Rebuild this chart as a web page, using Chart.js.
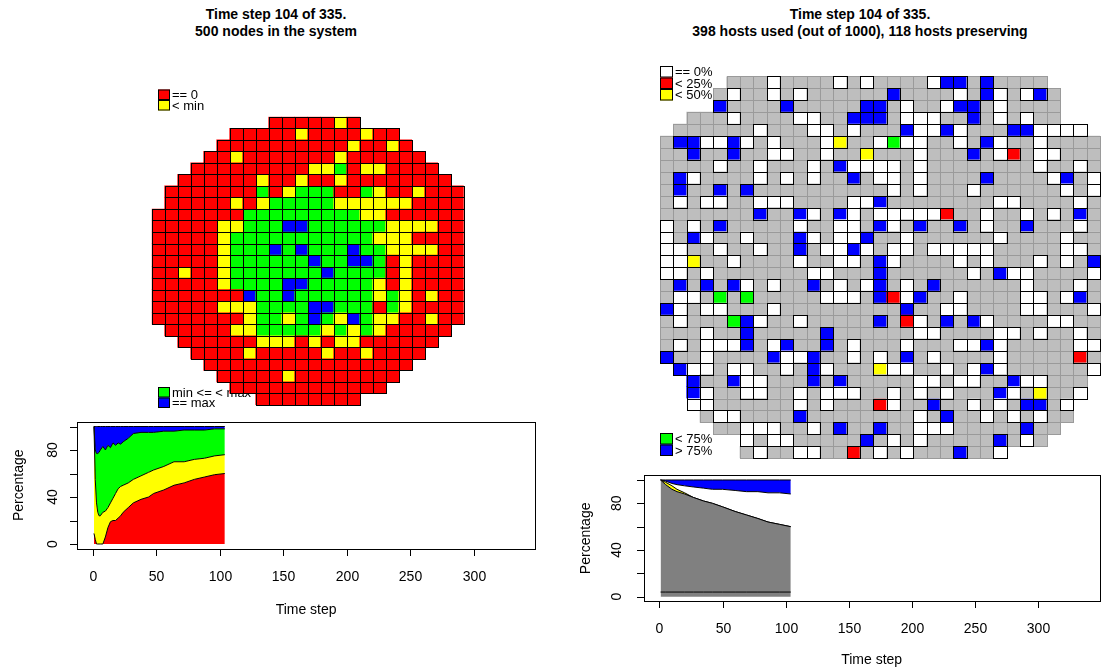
<!DOCTYPE html>
<html>
<head>
<meta charset="utf-8">
<script src="https://cdn.jsdelivr.net/npm/chart.js@4/dist/chart.umd.min.js"></script>
<style>
body{margin:0;background:#fff;width:1104px;height:672px;overflow:hidden;position:relative;font-family:"Liberation Sans",Arial,sans-serif}
canvas{position:absolute}
.title{position:absolute;font-weight:bold;font-size:14px;line-height:17px;text-align:center;white-space:nowrap;transform:translateX(-50%)}
</style>
</head>
<body>
<div class="title" style="left:276px;top:6px">Time step 104 of 335.<br>500 nodes in the system</div>
<div class="title" style="left:860px;top:6px">Time step 104 of 335.<br>398 hosts used (out of 1000), 118 hosts preserving</div>
<canvas id="leftGrid" width="340" height="340" style="left:140px;top:80px"></canvas>
<canvas id="rightGrid" width="454" height="410" style="left:650px;top:60px"></canvas>
<canvas id="leftArea" width="552" height="220" style="left:0px;top:410px"></canvas>
<canvas id="rightArea" width="544" height="207" style="left:560px;top:465px"></canvas>
<script>
// node grid, one string per row: R == 0, Y < min, G min <= < max, B == max
const nodeRows = [
  ".........RRRRRYR........",
  "......RRRRRYRRRRYRR.....",
  ".....RRRRRRRRRRYRRYR....",
  "....RRYRRRRRRRYRRRRRR...",
  "...RRRRRRRRRYYGRYYRRRR..",
  "..RRRRRRYRRYRRYRRRRRRRR.",
  ".RRRRRRRGRYGGGRRGYRRYRRR",
  ".RRRRRYRYGGGGGYYYYYYRRRR",
  "RRRRRRRGGGGGGGGGYYRRRRRR",
  "RRRRRYYGGGBBGGGGGGYYYYRR",
  "RRRRRYGGGGGGGGGGGYYYRRRR",
  "RRRRRYGGGBGBGGGBGGYYYYRR",
  "RRRRRYGGGGGGBGGBBGRYRRRR",
  "RRYRRYGGGGGGGBGGGGRYRRRR",
  "RRRRRYGGGGBBGGGGGYRYRRRR",
  "RRRRRRRBGGBGGGGGGYGYRYRR",
  "RRRRRYYYGGGGBBGGGRGYRRRR",
  "RRRRRRRYGGYGBGYBGYYRRYRR",
  ".RRRRRYYGGGGGYGYGYRRRRR.",
  "..RRRRRRYYYRYRYYRRRRRR..",
  "...RRRRYRRRRRYRRYRRRR...",
  "....RRRRRRRRRRRRRRRR....",
  ".....RRRRRYRRRRRRRR.....",
  "......RRRRRRRRRRRR......",
  "........RRRRRRRR........"
];

// host grid: g unused, w == 0%, R < 25%, Y < 50%, G < 75%, B > 75%
const hostRows = [
  ".....gggwggggwgwggggwBBgBgggg....",
  "....gwggwgwggggggBggggwgBwgwBg...",
  "....BggggBgggggBBgwggwBBgwgggg...",
  "..gggwggggwwggBBBgwwwggBgwgwgg...",
  ".ggggggwgggwwgwgggBwwBwgggBBwwww.",
  "gBBwwBwgwgggwYggwGwwggwgBwggwgggg",
  "ggBggBggwwggwggYgggwgggBgwRgwwggg",
  "ggggwggwgggwgBwwwwgwggggggggwggwg",
  "gBwggggwgwgwggBgwwgwggggBggggwBgw",
  "gBggBgBggggggggggwgwgggwggggggwgw",
  "gwgwwggwwwggggwwBggggggggwwggggwg",
  "gggggggBggBwgBwgwwwwwRggwggwgwgBg",
  "wgwgBgggggwggwwgBwgBggBgwggBgggwg",
  "wgBwggwgggBwgwwBggwggggggwggggwgg",
  "wwggwggwggBgwwBwgwwgwwwwwgggggwwg",
  "wwYggwggggwggwwgBwggggwgwgggwgwgB",
  "wwgwgggggggwwgggBggggggwgBwwggggw",
  "gBgBgBwgwggBgwgwBgwgBggggggwgggwg",
  "gwwgGgGgggggwwwgBRwBggwggggwwgwBg",
  "BwgwwgggwgggggggggBggwwggggwwgggw",
  "gwgggGBwggwgggggBgRwgBgBwggggwwgg",
  "gggwggBgggggBggggggwwggggwwgwggwg",
  "gwgwwwBgwBggBgwgggwgggwwBwgggggww",
  "BggwggggBwwBggwgwgBgwggggwgggggRg",
  ".BwwgwwggwgBwgggYwwggwgwBwggggggw",
  "..BggBwwgggBgBgggggwwgwwggBwwggg.",
  "..BwggwwggwgwwwggwgwgwgggBwgYggw.",
  "..wwggggggwgwgggRwggBggwgwgBBgw..",
  "...gwwggggBggggggggwgBggwgwgwgg..",
  "....ggwwwggwgBggBggwwwgggggBgg...",
  "......wgwwgggggBgwgwgggggBgwg....",
  "......gwggwwggRgwgwgggBggw......."
];

// left history chart (percent of nodes per state)
const nodeSteps  = [1, 2, 3, 4, 5, 6, 8, 10, 12, 14, 16, 18, 20, 22, 24, 28, 32, 38, 44, 48, 56, 64, 72, 80, 88, 96, 104];
const nodeZero   = [9, 4, 0, 0, 0, 0, 0, 6, 14, 19, 20, 20, 22, 24, 27, 31, 35, 38, 40, 43, 46, 50, 52, 55, 57, 59, 60];
const nodeLow    = [91, 51, 35, 27, 24, 24, 27, 22, 17, 16, 19, 23, 25, 25, 23, 21, 20, 20, 21, 20, 20, 20, 18, 17, 16, 16, 16];
const nodeMid    = [0, 25, 42, 50, 54, 56, 56, 52, 53, 47, 47, 41, 39, 36, 37, 38, 39, 37, 34, 32, 30, 26, 27, 25, 24, 23, 22];
const nodeMax    = [0, 20, 23, 23, 22, 20, 17, 20, 16, 18, 14, 16, 14, 15, 13, 10, 6, 5, 5, 5, 4, 4, 3, 3, 3, 2, 2];

// right history chart (percent of hosts per state)
const hostSteps  = [1, 5, 10, 14, 20, 27, 35, 42, 50, 60, 69, 78, 86, 95, 104];
const hostBase   = [4, 4, 4, 4, 4, 4, 4, 4, 4, 4, 4, 4, 4, 4, 4];
const hostIdle   = [96, 92, 88, 86, 84, 81, 78, 76, 73, 69, 66, 63, 60, 58, 56];
const hostHalf   = [0, 2, 3, 2, 1, 0, 0, 0, 0, 0, 0, 0, 0, 0, 0];
const hostEmpty  = [0, 1, 2, 4, 6, 9, 11, 12, 15, 18, 20, 23, 25, 27, 28];
const hostFull   = [0, 1, 3, 4, 5, 6, 7, 8, 8, 9, 10, 10, 11, 11, 12];

const xTicks = [0, 50, 100, 150, 200, 250, 300];
const yTicks = [0, 20, 40, 60, 80, 100];
const yLabels = [0, 40, 80];

const FONT = '"Liberation Sans", Arial, sans-serif';

// turns the row strings into one floating-bar dataset per colour
function gridDatasets(rows, palette){
    let cells = {};
    rows.forEach((row, r) => {
        for(let c = 0; c < row.length; c++){
            let ch = row[c];
            if(!palette[ch]) continue;
            if(!cells[ch]) cells[ch] = [];
            cells[ch].push({x: String(c), y: [r, r + 1]});
        }
    });
    return Object.keys(palette).filter(k => cells[k]).map(k => ({
        data: cells[k],
        backgroundColor: palette[k].fill,
        edgeColor: palette[k].edge,
        borderWidth: 0,
        barPercentage: 1,
        categoryPercentage: 1,
        grouped: false
    }));
}

// thin cell outlines drawn on top of the bars
const cellEdges = {
    id: 'cellEdges',
    afterDatasetsDraw(chart){
        let ctx = chart.ctx;
        ctx.save();
        ctx.lineWidth = 1;
        chart.data.datasets.forEach((ds, i) => {
            ctx.strokeStyle = ds.edgeColor;
            chart.getDatasetMeta(i).data.forEach(bar => {
                let p = bar.getProps(['x', 'y', 'base', 'width'], true);
                let x0 = Math.round(p.x - p.width / 2), x1 = Math.round(p.x + p.width / 2);
                let y0 = Math.round(Math.min(p.y, p.base)), y1 = Math.round(Math.max(p.y, p.base));
                ctx.strokeRect(x0 + 0.5, y0 + 0.5, x1 - x0, y1 - y0);
            });
        });
        ctx.restore();
    }
};

// legend boxes, drawn under the cells like the original
const boxLegend = {
    id: 'boxLegend',
    beforeDatasetsDraw(chart, args, opts){
        let ctx = chart.ctx;
        ctx.save();
        ctx.font = opts.font;
        ctx.textBaseline = 'middle';
        opts.items.forEach(it => {
            let x = it[0] - opts.left, y = it[1] - opts.top;
            ctx.fillStyle = it[2];
            ctx.fillRect(x, y, opts.w, opts.h);
            ctx.strokeStyle = '#000';
            ctx.lineWidth = 1;
            ctx.strokeRect(x + 0.5, y + 0.5, opts.w - 1, opts.h - 1);
            ctx.fillStyle = '#000';
            ctx.fillText(it[3], x + opts.w + 2, y + opts.h / 2 + 1);
        });
        ctx.restore();
    }
};

function gridChart(id, rows, palette, pad, legend){
    let n = rows[0].length;
    let labels = [];
    for(let c = 0; c < n; c++) labels.push(String(c));
    return new Chart(document.getElementById(id), {
        type: 'bar',
        data: {labels: labels, datasets: gridDatasets(rows, palette)},
        options: {
            responsive: false,
            animation: false,
            devicePixelRatio: 1,
            layout: {padding: pad},
            scales: {
                x: {display: false},
                y: {display: false, min: 0, max: rows.length, reverse: true}
            },
            plugins: {legend: {display: false}, tooltip: {enabled: false}, boxLegend: legend}
        },
        plugins: [boxLegend, cellEdges]
    });
}

gridChart('leftGrid', nodeRows, {
    R: {fill: '#ff0000', edge: '#000'},
    Y: {fill: '#ffff00', edge: '#000'},
    G: {fill: '#00ff00', edge: '#000'},
    B: {fill: '#0000ff', edge: '#000'}
}, {left: 11.7, top: 36.7, right: 16.3, bottom: 15}, {
    left: 140, top: 80, w: 12, h: 10.5, font: '13px ' + FONT,
    items: [
        [158, 89.5, '#ff0000', '== 0'],
        [158, 100, '#ffff00', '< min'],
        [158, 387, '#00ff00', 'min <= < max'],
        [158, 397.5, '#0000ff', '== max']
    ]
});

gridChart('rightGrid', hostRows, {
    g: {fill: '#bebebe', edge: '#9a9a9a'},
    w: {fill: '#ffffff', edge: '#000'},
    R: {fill: '#ff0000', edge: '#000'},
    Y: {fill: '#ffff00', edge: '#000'},
    G: {fill: '#00ff00', edge: '#000'},
    B: {fill: '#0000ff', edge: '#000'}
}, {left: 10, top: 16.4, right: 4, bottom: 11.8}, {
    left: 650, top: 60, w: 13, h: 11.5, font: '13px ' + FONT,
    items: [
        [660, 66, '#ffffff', '== 0%'],
        [660, 77.5, '#ff0000', '< 25%'],
        [660, 89, '#ffff00', '< 50%'],
        [660, 433, '#00ff00', '< 75%'],
        [660, 444.5, '#0000ff', '> 75%']
    ]
});

// R style box, ticks and labels for the history plots
const rAxes = {
    id: 'rAxes',
    afterDraw(chart, args, o){
        let ctx = chart.ctx, a = chart.chartArea;
        let x = chart.scales.x, y = chart.scales.y;
        ctx.save();
        ctx.strokeStyle = '#000';
        ctx.fillStyle = '#000';
        ctx.lineWidth = 1;
        let l = Math.round(a.left), t = Math.round(a.top), r = Math.round(a.right), b = Math.round(a.bottom);
        ctx.strokeRect(l + 0.5, t + 0.5, r - l, b - t);
        ctx.font = '14px ' + FONT;
        ctx.textAlign = 'center';
        ctx.textBaseline = 'middle';
        xTicks.forEach(v => {
            let px = Math.round(x.getPixelForValue(v)) + 0.5;
            ctx.beginPath();
            ctx.moveTo(px, b);
            ctx.lineTo(px, b + o.tick);
            ctx.stroke();
            ctx.fillText(String(v), px, b + o.xLab);
        });
        yTicks.forEach(v => {
            let py = Math.round(y.getPixelForValue(v)) + 0.5;
            ctx.beginPath();
            ctx.moveTo(l - o.tick, py);
            ctx.lineTo(l, py);
            ctx.stroke();
        });
        yLabels.forEach(v => {
            ctx.save();
            ctx.translate(l - o.yLab, y.getPixelForValue(v));
            ctx.rotate(-Math.PI / 2);
            ctx.fillText(String(v), 0, 0);
            ctx.restore();
        });
        ctx.fillText('Time step', (a.left + a.right) / 2, b + o.xTitle);
        ctx.translate(l - o.yTitle, (a.top + a.bottom) / 2);
        ctx.rotate(-Math.PI / 2);
        ctx.fillText('Percentage', 0, 0);
        ctx.restore();
    }
};

function areaSet(steps, values, colour, first){
    return {
        data: steps.map((s, i) => ({x: s, y: values[i]})),
        backgroundColor: colour,
        borderColor: '#000',
        borderWidth: 1,
        pointRadius: 0,
        tension: 0,
        fill: first ? 'origin' : '-1'
    };
}

function areaChart(id, datasets, pad, axes){
    return new Chart(document.getElementById(id), {
        type: 'line',
        data: {datasets: datasets},
        options: {
            responsive: false,
            animation: false,
            devicePixelRatio: 1,
            layout: {padding: pad},
            scales: {
                x: {type: 'linear', display: false, min: -12.36, max: 348.36},
                y: {display: false, stacked: true, min: -4, max: 104}
            },
            plugins: {legend: {display: false}, tooltip: {enabled: false}, rAxes: axes}
        },
        plugins: [rAxes]
    });
}

areaChart('leftArea', [
    areaSet(nodeSteps, nodeZero, '#ff0000', true),
    areaSet(nodeSteps, nodeLow, '#ffff00'),
    areaSet(nodeSteps, nodeMid, '#00ff00'),
    areaSet(nodeSteps, nodeMax, '#0000ff')
], {left: 77, top: 11.8, right: 16.8, bottom: 81.3}, {tick: 7, xLab: 28, yLab: 24, xTitle: 61, yTitle: 58});

areaChart('rightArea', [
    areaSet(hostSteps, hostBase, '#808080', true),
    areaSet(hostSteps, hostIdle, '#808080'),
    areaSet(hostSteps, hostHalf, '#ffff00'),
    areaSet(hostSteps, hostEmpty, '#ffffff'),
    areaSet(hostSteps, hostFull, '#0000ff')
], {left: 83.7, top: 10.3, right: 4.4, bottom: 70.6}, {tick: 7, xLab: 28, yLab: 27, xTitle: 59, yTitle: 58});
</script>
</body>
</html>
